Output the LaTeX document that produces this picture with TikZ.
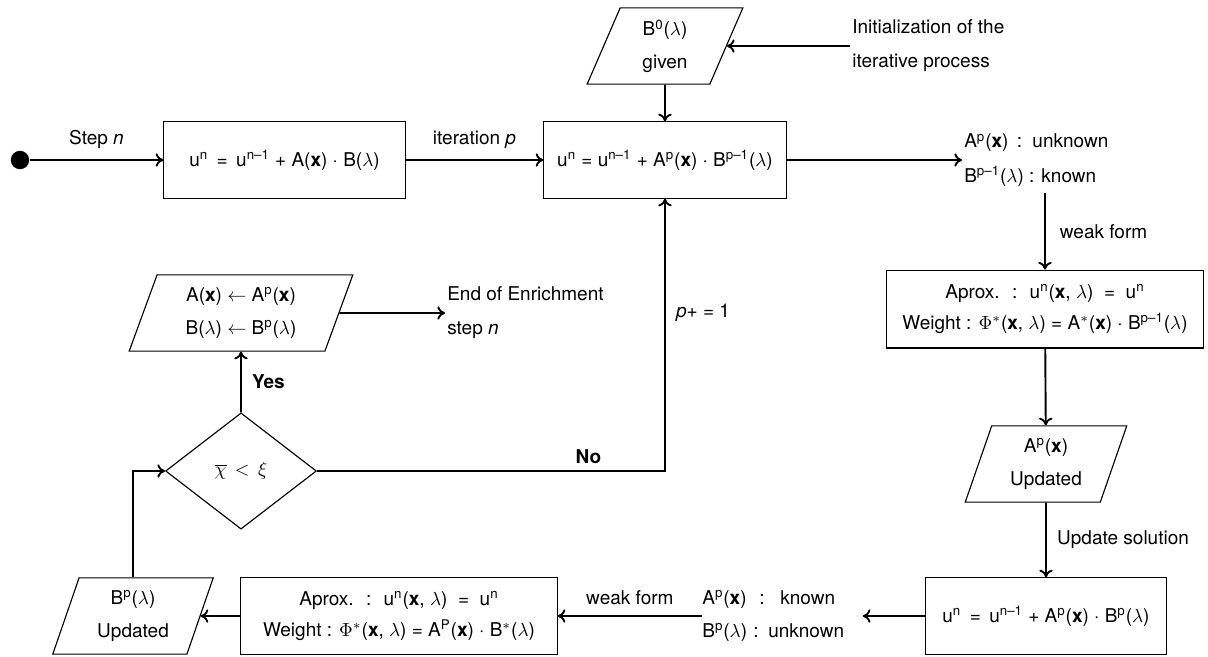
\documentclass[tikz,border=0pt]{standalone}
\usepackage{fontspec}
\setmainfont{TeX Gyre Heros}
\usetikzlibrary{shapes.geometric, arrows.meta}
\newcommand{\up}[1]{\textsuperscript{#1}}
\tikzset{
  block/.style={draw, semithick, rectangle, align=center, minimum height=1.41cm},
  io/.style={draw, semithick, trapezium, trapezium left angle=72, trapezium right angle=108,
    trapezium stretches=true, align=center, minimum height=1.41cm},
  decision/.style={draw, semithick, diamond, minimum width=2.79cm, minimum height=2.15cm, inner sep=0pt},
  flow/.style={line width=1pt, -{To[length=4pt, width=7pt]}},
  lbl/.style={align=left, inner xsep=1pt}
}
\begin{document}
\begin{tikzpicture}[x=0.0185cm, y=-0.0185cm]
\useasboundingbox (0,0) rectangle (1208,656);
% top row
\node[circle, fill, inner sep=0pt, minimum size=0.34cm] (start) at (20,160) {};
\node[block, minimum width=4.46cm] (box1) at (284.5,160) {u\up{n} \,=\, u\up{n--1} + A(\textbf{x}) $\cdot$ B($\lambda$)};
\node[block, minimum width=4.48cm] (box2) at (665,160) {u\up{n} = u\up{n--1} + A\up{p}(\textbf{x}) $\cdot$ B\up{p--1}($\lambda$)};
\node[io, minimum width=2.89cm] (b0) at (665,46) {B\up{0}($\lambda$)\\[5pt] given};
\node[lbl, anchor=west] (init) at (850,46) {Initialization of the\\[6pt] iterative process};
\node[lbl, anchor=west] (known1) at (962,160) {A\up{p}(\textbf{x}) \,:\, unknown\\[6pt] B\up{p--1}($\lambda$) : known};
% right column
\node[block, minimum width=5.85cm, minimum height=1.44cm] (box3) at (1045,309) {Aprox. \ : \ u\up{n}(\textbf{x}, $\lambda$) \ = \ u\up{n}\\[4pt] Weight : $\Phi^*$(\textbf{x}, $\lambda$) = A$^*$(\textbf{x}) $\cdot$ B\up{p--1}($\lambda$)};
\node[io, minimum width=3cm] (ap) at (1046,464) {A\up{p}(\textbf{x})\\[5pt] Updated};
\node[block, minimum width=4.46cm] (box4) at (1046,616) {u\up{n} \,=\, u\up{n--1} + A\up{p}(\textbf{x}) $\cdot$ B\up{p}($\lambda$)};
% bottom row
\node[lbl, anchor=west, inner xsep=0pt, text width=2.96cm] (known2) at (702,616) {A\up{p}(\textbf{x}) \ : \ known\\[5pt] B\up{p}($\lambda$) : unknown};
\node[block, minimum width=5.85cm] (box5) at (399,616) {Aprox. \ : \ u\up{n}(\textbf{x}, $\lambda$) \ = \ u\up{n}\\[4pt] Weight : $\Phi^*$(\textbf{x}, $\lambda$) = A\up{P}(\textbf{x}) $\cdot$ B$^*$($\lambda$)};
\node[io, minimum width=2.98cm] (bp) at (133,616) {B\up{p}($\lambda$)\\[5pt] Updated};
% test and end
\node[decision] (cond) at (241,471) {$\overline{\chi}\,<\,\xi$};
\node[io, minimum width=4.16cm] (upd) at (241,313) {A(\textbf{x}) $\leftarrow$ A\up{p}(\textbf{x})\\[5pt] B($\lambda$) $\leftarrow$ B\up{p}($\lambda$)};
\node[lbl, anchor=west] (endlbl) at (445,313) {End of Enrichment\\[6pt] step \textit{n}};
% connectors
\draw[flow] (start) -- node[above=2pt] {Step \textit{n}} (box1);
\draw[flow] (box1) -- node[above=2pt] {iteration \textit{p}} (box2);
\draw[flow] (init) -- (b0);
\draw[flow] (b0) -- (box2);
\draw[flow] (box2) -- (known1);
\draw[flow] (box3.north |- known1.south) -- node[right=4pt] {weak form} (box3);
\draw[flow] (box3) -- (ap);
\draw[flow] (ap) -- node[right=2pt] {Update solution} (box4);
\draw[flow] (box4) -- (known2);
\draw[flow] (known2) -- node[above=2pt] {weak form} (box5);
\draw[flow] (box5) -- (bp);
\draw[flow] (bp.north) |- (cond.west);
\draw[flow] (cond) -- node[right=2pt] {\textbf{Yes}} (upd);
\draw[flow] (upd) -- (endlbl);
\draw[flow] (cond.east) -| node[pos=0.39, above] {\textbf{No}} node[pos=0.79, right=2pt] {\textit{p}+ = 1} (box2.south);
\end{tikzpicture}
\end{document}
